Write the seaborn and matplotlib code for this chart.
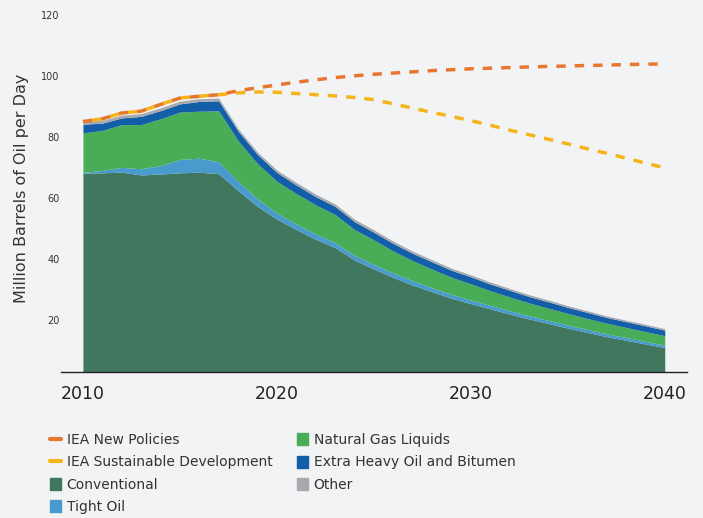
import numpy as np
import pandas as pd
import matplotlib
matplotlib.use("Agg")
import matplotlib.pyplot as plt
import seaborn as sns
from matplotlib.patches import Patch
from matplotlib.lines import Line2D

# ---------- Data (million barrels per day) ----------
years = list(range(2010, 2041))

conventional = [68.0, 68.1, 68.3, 67.4, 67.7, 68.1, 68.3, 67.8, 62.3, 57.1,
                52.9, 49.5, 46.3, 43.6, 39.5, 36.6, 33.8, 31.3, 29.1, 27.0,
                25.2, 23.5, 21.8, 20.2, 18.7, 17.2, 15.8, 14.4, 13.2, 12.0, 10.8]
tight_oil    = [0.2, 0.8, 1.6, 2.0, 2.8, 4.4, 4.6, 3.9, 3.0, 2.4,
                2.0, 1.8, 1.7, 1.6, 1.5, 1.5, 1.45, 1.4, 1.3, 1.25,
                1.2, 1.15, 1.1, 1.05, 1.0, 1.0, 0.95, 0.9, 0.9, 0.85, 0.8]
ngl          = [13.0, 13.1, 14.0, 14.5, 15.3, 15.5, 15.4, 16.7, 13.3, 11.6,
                10.4, 10.0, 9.6, 9.2, 8.5, 8.0, 7.2, 6.6, 6.1, 5.6,
                5.3, 4.8, 4.5, 4.2, 4.0, 3.8, 3.6, 3.5, 3.3, 3.2, 3.1]
extra_heavy  = [2.8, 2.4, 2.2, 2.7, 2.7, 2.7, 3.2, 3.3, 3.2, 3.0,
                2.9, 2.8, 2.7, 2.7, 2.6, 2.5, 2.5, 2.4, 2.4, 2.3,
                2.3, 2.2, 2.2, 2.1, 2.1, 2.0, 2.0, 1.9, 1.9, 1.9, 1.8]
other        = [0.9, 0.9, 0.9, 0.9, 0.9, 0.9, 0.9, 0.9, 0.8, 0.8,
                0.8, 0.8, 0.8, 0.8, 0.8, 0.8, 0.75, 0.7, 0.7, 0.7,
                0.65, 0.65, 0.6, 0.6, 0.6, 0.55, 0.55, 0.5, 0.5, 0.5, 0.5]

new_policies = [84.9, 85.8, 87.7, 88.3, 90.5, 92.6, 93.2, 93.7, 95.0, 96.0,
                96.9, 97.8, 98.6, 99.3, 99.9, 100.4, 100.8, 101.2, 101.6, 101.9,
                102.2, 102.4, 102.6, 102.8, 103.0, 103.1, 103.3, 103.4, 103.6, 103.7, 103.8]
sustainable  = [84.9, 85.8, 87.7, 88.3, 90.5, 92.6, 93.2, 93.7, 94.3, 94.6,
                94.5, 94.1, 93.7, 93.3, 92.8, 92.1, 90.7, 89.3, 87.9, 86.6,
                85.2, 83.7, 82.1, 80.6, 79.1, 77.6, 76.0, 74.5, 72.9, 71.3, 69.7]

x_ticks = [2010, 2020, 2030, 2040]
y_ticks = [20, 40, 60, 80, 100, 120]

# ---------- Style ----------
BG = "#F2F3F5"
C_CONV, C_TIGHT, C_NGL, C_EH, C_OTHER = "#41775F", "#4A9BCD", "#48AD56", "#135EA9", "#A7A9AC"
C_NP, C_SD = "#E8772E", "#F5B41A"

sns.set_theme(style="white")
plt.rcParams["font.family"] = ["DejaVu Sans"]

fig = plt.figure(figsize=(7.03, 5.18), dpi=100, facecolor=BG)
ax = fig.add_axes([0.0868, 0.2813, 0.8905, 0.6907], facecolor=BG)

# ---------- Stacked supply areas ----------
ax.stackplot(years, conventional, tight_oil, ngl, extra_heavy, other,
             colors=[C_CONV, C_TIGHT, C_NGL, C_EH, C_OTHER], linewidth=0)

# ---------- IEA scenario lines ----------
lines_df = pd.DataFrame({
    "year": years * 2,
    "value": new_policies + sustainable,
    "scenario": ["IEA New Policies"] * len(years) + ["IEA Sustainable Development"] * len(years),
})
sns.lineplot(data=lines_df, x="year", y="value", hue="scenario",
             hue_order=["IEA Sustainable Development", "IEA New Policies"],
             palette=[C_SD, C_NP], linewidth=2.5, legend=False, ax=ax)
# same dash pattern, yellow shifted half a period so they alternate where they overlap
ax.lines[0].set_linestyle((2.65, (2.7, 2.6)))
ax.lines[1].set_linestyle((0, (2.7, 2.6)))

# ---------- Axes ----------
ax.set_xlim(2008.87, 2041.15)
ax.set_ylim(2.7, 120)
ax.set_xticks(x_ticks)
ax.set_xticklabels([str(t) for t in x_ticks], fontsize=12.5, color="#222222")
ax.set_yticks(y_ticks)
ax.set_yticklabels([str(t) for t in y_ticks], fontsize=7, color="#333333")
ax.tick_params(axis="x", length=0, pad=9)
ax.tick_params(axis="y", length=0, pad=1)
ax.set_xlabel("")
ax.set_ylabel("")
for side in ["top", "right", "left"]:
    ax.spines[side].set_visible(False)
ax.spines["bottom"].set_color("#222222")
ax.spines["bottom"].set_linewidth(1.0)
ax.grid(False)

fig.text(0.0306, 0.637, "Million Barrels of Oil per Day", rotation=90,
         ha="center", va="center", fontsize=11.5, color="#333333")

# ---------- Legend ----------
col1 = [Line2D([0], [0], color=C_NP, lw=3),
        Line2D([0], [0], color=C_SD, lw=3),
        Patch(color=C_CONV), Patch(color=C_TIGHT)]
col1_lab = ["IEA New Policies", "IEA Sustainable Development", "Conventional", "Tight Oil"]
col2 = [Patch(color=C_NGL), Patch(color=C_EH), Patch(color=C_OTHER)]
col2_lab = ["Natural Gas Liquids", "Extra Heavy Oil and Bitumen", "Other"]

leg_kw = dict(loc="upper left", frameon=False, fontsize=10, handlelength=0.8,
              handleheight=0.95, handletextpad=0.4, labelspacing=0.6,
              borderpad=0, borderaxespad=0, labelcolor="#333333")
fig.legend(col1, col1_lab, bbox_to_anchor=(50 / 703, 1 - 433 / 518), **leg_kw)
fig.legend(col2, col2_lab, bbox_to_anchor=(297 / 703, 1 - 433 / 518), **leg_kw)

fig.savefig("out.png", dpi=100, facecolor=BG)
